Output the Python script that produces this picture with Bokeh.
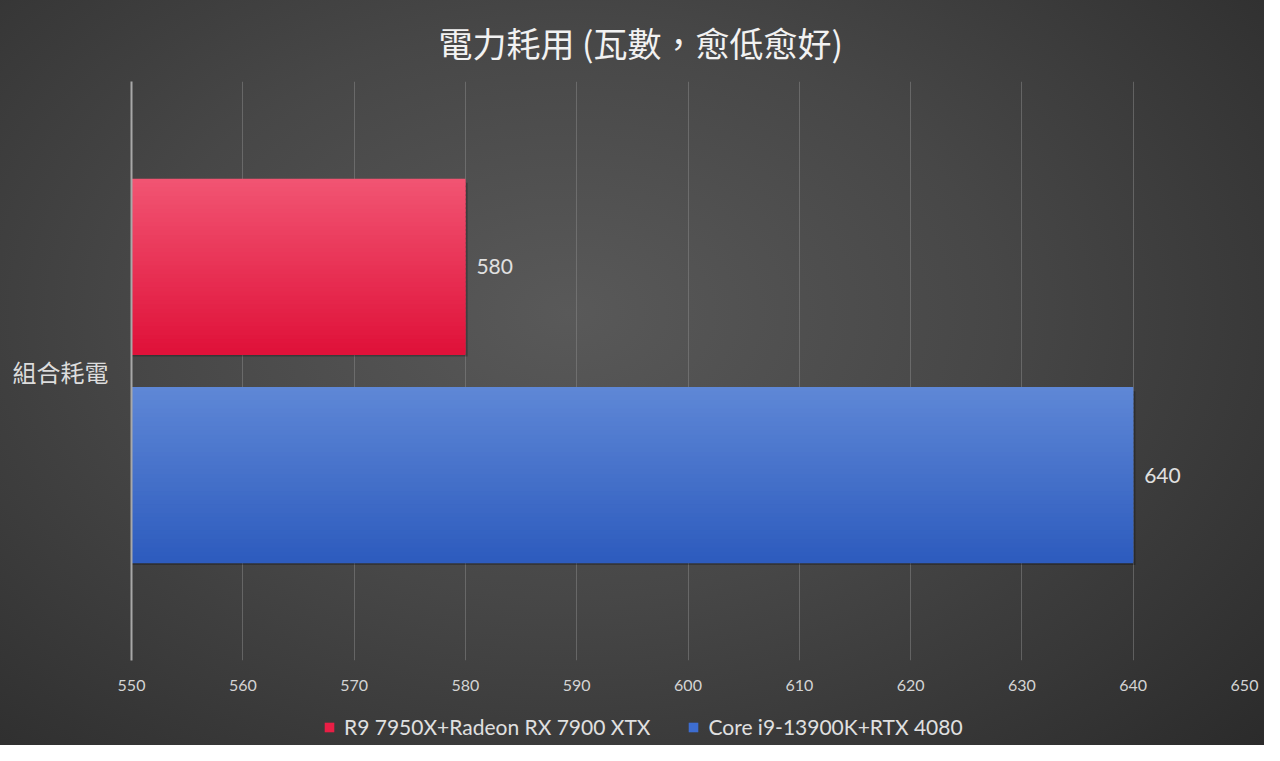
from bokeh.plotting import figure
from bokeh.layouts import column
from bokeh.models import (Range1d, FixedTicker, ColumnDataSource, LabelSet,
                          Legend, LegendItem)
from bokeh.core.properties import value
from bokeh.embed import file_html
from bokeh.resources import INLINE

# ---- data ----
title_text = "電力耗用 (瓦數，愈低愈好)"
categories = ["組合耗電"]
series_names = ["R9 7950X+Radeon RX 7900 XTX", "Core i9-13900K+RTX 4080"]
series_values = [580, 640]
x_ticks = [550, 560, 570, 580, 590, 600, 610, 620, 630, 640, 650]

# ---- style / layout ----
X_MIN, X_MAX = 550, 650
CAT_CENTER = 0.5
DODGE = [0.18, -0.18]
BAR_H = 0.30
TOP_COLORS = [(241, 84, 114), (94, 135, 214)]
BOT_COLORS = [(224, 18, 58), (46, 92, 190)]
SOLID = ["#e91e45", "#3d6dd0"]
CJK = "Noto Sans CJK TC"
LAT = "Lato"
N_STRIPS = 40
W = 1264

p = figure(width=W, height=700, output_backend="svg", toolbar_location=None,
           x_range=Range1d(X_MIN, X_MAX), y_range=Range1d(0, 1),
           min_border_left=131, min_border_right=20, min_border_top=81,
           min_border_bottom=40)
p.background_fill_color = None
p.border_fill_color = None
p.outline_line_color = None

p.title.text = title_text
p.title.text_font = CJK
p.title.text_font_size = "34px"
p.title.text_font_style = "normal"
p.title.text_color = "#f2f2f2"
p.title.align = "left"
p.title.offset = 307
p.title.standoff = 29

# x axis
p.xaxis.ticker = FixedTicker(ticks=x_ticks)
p.xaxis.axis_line_color = None
p.xaxis.major_tick_line_color = None
p.xaxis.minor_tick_line_color = None
p.xaxis.major_label_text_font = LAT
p.xaxis.major_label_text_font_size = "16px"
p.xaxis.major_label_text_color = "#d4d4d4"
p.xaxis.major_label_standoff = 13
p.xgrid.ticker = FixedTicker(ticks=x_ticks)
p.xgrid.grid_line_color = "#8a8a8a"
p.xgrid.grid_line_alpha = 0.5
p.ygrid.grid_line_color = None

# y axis (category)
p.yaxis.ticker = FixedTicker(ticks=[CAT_CENTER])
p.yaxis.major_label_overrides = {CAT_CENTER: categories[0]}
p.yaxis.axis_line_color = "#a8a8a8"
p.yaxis.axis_line_width = 2
p.yaxis.major_tick_line_color = None
p.yaxis.minor_tick_line_color = None
p.yaxis.major_label_text_font = CJK
p.yaxis.major_label_text_font_size = "24px"
p.yaxis.major_label_text_color = "#dcdcdc"
p.yaxis.major_label_standoff = 17

# legend strip (separate small figure under the chart)
pl = figure(width=W, height=45, output_backend="svg", toolbar_location=None,
            x_range=Range1d(X_MIN, X_MAX), y_range=Range1d(0, 1),
            min_border=0)
pl.axis.visible = False
pl.grid.grid_line_color = None
pl.background_fill_color = None
pl.border_fill_color = None
pl.outline_line_color = None

legend_items = []
label_x, label_y, label_t = [], [], []
for i, (name, val) in enumerate(zip(series_names, series_values)):
    yc = CAT_CENTER + DODGE[i]
    # soft shadow
    p.hbar(y=[yc - 0.005], left=[X_MIN], right=[val + 0.2], height=BAR_H,
           fill_color="black", fill_alpha=0.25, line_color=None)
    p.hbar(y=[yc], left=[X_MIN], right=[val], height=BAR_H,
           fill_color=SOLID[i], line_color=None)
    # vertical gradient strips
    top = yc + BAR_H / 2
    hs = BAR_H / N_STRIPS
    ys, cols = [], []
    for k in range(N_STRIPS):
        t = k / (N_STRIPS - 1)
        c = tuple(int(round(a + (b - a) * t)) for a, b in zip(TOP_COLORS[i], BOT_COLORS[i]))
        ys.append(top - hs * (k + 0.5))
        cols.append("#%02x%02x%02x" % c)
    src = ColumnDataSource(dict(y=ys, right=[val] * N_STRIPS, color=cols))
    p.hbar(y="y", left=X_MIN, right="right", height=hs * 1.6, source=src,
           fill_color="color", line_color=None)
    key = pl.hbar(y=[yc], left=[X_MIN], right=[val], height=BAR_H,
                  fill_color=SOLID[i], line_color=None, visible=False)
    legend_items.append(LegendItem(label=name, renderers=[key]))
    label_x.append(val)
    label_y.append(yc)
    label_t.append(str(val))

lab_src = ColumnDataSource(dict(x=label_x, y=label_y, t=label_t))
p.add_layout(LabelSet(x="x", y="y", text="t", source=lab_src, x_offset=11,
                      text_baseline="middle", text_font=value(LAT),
                      text_font_size="21px", text_color="#e0e0e0"))

legend = Legend(items=legend_items, orientation="horizontal",
                location=(192, 6), padding=0, margin=0, spacing=37,
                glyph_width=12, glyph_height=12, label_standoff=9,
                label_text_font=LAT, label_text_font_size="21px",
                label_text_color="#e0e0e0", border_line_color=None,
                background_fill_alpha=0, inactive_fill_alpha=0)
pl.add_layout(legend)

layout = column(p, pl, spacing=0)
layout.styles = {"background": "radial-gradient(ellipse 75% 85% at 45% 42%, #595959 0%, #474747 45%, #2b2b2b 100%)"}

open("out.html", "w").write(file_html(layout, INLINE))
